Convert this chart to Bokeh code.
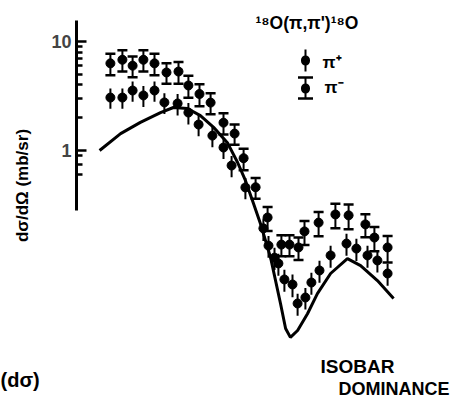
import math
from bokeh.plotting import figure
from bokeh.models import Range1d, FixedTicker, Label, Whisker, TeeHead, BoxAnnotation
from bokeh.embed import file_html
from bokeh.resources import INLINE

# ---- data (angle axis not shown in the figure; cross sections in mb/sr) ----
theta_pim = [11.3, 15.3, 18.7, 22.3, 26.0, 30.0, 34.0, 37.3, 41.0, 44.7, 49.0, 52.7,
             55.7, 59.7, 63.7, 68.3, 71.0, 74.0, 76.0, 80.7, 86.3, 90.7, 96.3, 99.3, 103.7]
xs_pim = [6.3, 6.8, 6.0, 6.8, 6.3, 5.2, 5.3, 3.95, 3.3, 2.75, 1.8, 1.43,
          0.85, 0.46, 0.243, 0.137, 0.137, 0.129, 0.181, 0.218, 0.259, 0.254, 0.21, 0.159, 0.129]
err_pim = [1.4, 1.5, 1.3, 1.5, 1.4, 1.1, 1.2, 0.9, 0.75, 0.6, 0.4, 0.3,
           0.19, 0.1, 0.06, 0.03, 0.03, 0.03, 0.045, 0.055, 0.065, 0.065, 0.05, 0.04, 0.035]

theta_pip = [11.3, 15.3, 18.7, 22.3, 26.0, 29.3, 33.7, 37.3, 40.7, 45.3, 49.0, 51.7, 56.3,
             62.3, 64.0, 66.0, 67.3, 69.3, 72.0, 73.7, 76.3, 78.3, 81.0, 84.7, 90.0, 93.3,
             97.0, 100.3, 103.7]
xs_pip = [3.06, 3.06, 3.55, 3.2, 3.55, 2.76, 2.7, 2.23, 1.73, 1.37, 1.065, 0.728, 0.458,
          0.193, 0.134, 0.104, 0.092, 0.0656, 0.059, 0.0395, 0.0448, 0.0615, 0.0793, 0.109, 0.14, 0.126,
          0.109, 0.098, 0.0744]
err_pip = [0.65, 0.65, 0.75, 0.7, 0.75, 0.6, 0.6, 0.5, 0.38, 0.3, 0.23, 0.16, 0.1,
           0.045, 0.03, 0.024, 0.021, 0.015, 0.014, 0.009, 0.01, 0.014, 0.018, 0.025, 0.032, 0.029,
           0.025, 0.022, 0.017]

theta_theory = [7.7, 14.7, 21.3, 28.0, 32.3, 37.0, 41.3, 45.7, 50.3, 53.7, 56.3, 59.0, 61.3,
                64.7, 68.0, 69.7, 71.3, 73.7, 77.0, 80.3, 84.7, 90.3, 94.7, 100.3, 105.7]
xs_theory = [1.0, 1.43, 1.81, 2.23, 2.48, 2.43, 2.09, 1.63, 1.18, 0.776, 0.531, 0.326, 0.214,
             0.104, 0.0395, 0.0233, 0.0193, 0.0223, 0.0318, 0.0487, 0.0744, 0.102, 0.088, 0.0641, 0.0439]

y_major_ticks = [1, 10]
y_minor_ticks = [0.6, 0.75, 0.9, 2, 3, 4, 5, 6, 7, 8, 9]
y_tick_labels = {1: "1", 10: "10"}

title_text = "\u00b9\u2078O(\u03c0,\u03c0')\u00b9\u2078O"
legend_labels = ["\u03c0\u207a", "\u03c0\u207b"]
y_label = "d\u03c3/d\u03a9 (mb/sr)"

FONT = "Liberation Sans"
W, H = 457, 397
AXIS_PX = 76          # pixel column of the y axis line
DEC = 109.0           # pixels per decade
ONE_PX = 150          # pixel row of the value 1

p = figure(width=W, height=H, output_backend="svg", toolbar_location=None,
           y_axis_type="log", x_axis_location=None,
           x_range=Range1d(-AXIS_PX / 3.0, (W - AXIS_PX) / 3.0),
           y_range=Range1d(10 ** ((ONE_PX - H) / DEC), 10 ** (ONE_PX / DEC)),
           min_border_left=0, min_border_right=0, min_border_top=0, min_border_bottom=0)
p.outline_line_color = None
p.grid.visible = False
p.background_fill_color = "white"
p.border_fill_color = "white"

ax = p.yaxis[0]
ax.fixed_location = 0
ax.ticker = FixedTicker(ticks=y_major_ticks, minor_ticks=y_minor_ticks)
ax.major_label_overrides = y_tick_labels
ax.bounds = (10 ** ((ONE_PX - 210) / DEC), 10 ** ((ONE_PX - 20) / DEC))
ax.axis_line_width = 3
ax.major_tick_in = 10
ax.major_tick_out = 0
ax.minor_tick_in = 6
ax.minor_tick_out = 0
ax.major_tick_line_width = 2.5
ax.minor_tick_line_width = 2.5
ax.major_label_standoff = 5
ax.major_label_text_font = FONT
ax.major_label_text_font_style = "bold"
ax.major_label_text_font_size = "18px"

# theory curve
p.line(theta_theory, xs_theory, line_color="black", line_width=3)

# pi+ (error bars without caps)
lo_pip = [y - e for y, e in zip(xs_pip, err_pip)]
hi_pip = [y + e for y, e in zip(xs_pip, err_pip)]
p.segment(theta_pip, lo_pip, theta_pip, hi_pip, line_color="black", line_width=2)
p.scatter(theta_pip, xs_pip, marker="circle", size=9, fill_color="black", line_color="black")

# pi- (error bars with caps)
lo_pim = [y - e for y, e in zip(xs_pim, err_pim)]
hi_pim = [y + e for y, e in zip(xs_pim, err_pim)]
p.segment(theta_pim, lo_pim, theta_pim, hi_pim, line_color="black", line_width=2)
p.scatter(theta_pim, hi_pim, marker="dash", size=10, line_color="black", line_width=2.5)
p.scatter(theta_pim, lo_pim, marker="dash", size=10, line_color="black", line_width=2.5)
p.scatter(theta_pim, xs_pim, marker="circle", size=9, fill_color="black", line_color="black")


def sx(px):
    return px


def sy(py):
    return H - py


def text(t, px, py, size, align="left", angle=0.0):
    p.add_layout(Label(x=sx(px), y=sy(py), x_units="screen", y_units="screen", text=t,
                       text_font=FONT, text_font_style="bold", text_font_size=size,
                       text_color="black", text_align=align, text_baseline="middle",
                       angle=angle))


# y axis title (rotated)
text(y_label, 22, 185, "17px", align="center", angle=math.pi / 2)

# reaction label
text(title_text, 255, 22, "17.5px")

# legend keys
leg_x = 305
p.add_layout(Whisker(base=sx(leg_x), upper=sy(49), lower=sy(71), dimension="height",
                     base_units="screen", upper_units="screen", lower_units="screen",
                     line_color="black", line_width=2, upper_head=None, lower_head=None))
p.add_layout(BoxAnnotation(left=sx(leg_x) - 4.5, right=sx(leg_x) + 4.5, top=sy(55), bottom=sy(65),
                           left_units="screen", right_units="screen", top_units="screen",
                           bottom_units="screen", fill_color="black", fill_alpha=1.0,
                           line_color=None, border_radius=5))
p.add_layout(Whisker(base=sx(leg_x), upper=sy(77), lower=sy(98), dimension="height",
                     base_units="screen", upper_units="screen", lower_units="screen",
                     line_color="black", line_width=2,
                     upper_head=TeeHead(size=15, line_width=2.5, line_color="black"),
                     lower_head=TeeHead(size=15, line_width=2.5, line_color="black")))
p.add_layout(BoxAnnotation(left=sx(leg_x) - 4.5, right=sx(leg_x) + 4.5, top=sy(83), bottom=sy(93),
                           left_units="screen", right_units="screen", top_units="screen",
                           bottom_units="screen", fill_color="black", fill_alpha=1.0,
                           line_color=None, border_radius=5))
text(legend_labels[0], 322, 62, "17px")
text(legend_labels[1], 324, 87, "17px")

# annotations at the bottom
text("ISOBAR", 320, 366, "19px")
text("DOMINANCE", 338, 388, "18px")
text("(d\u03c3)", 0, 379, "20px")

open("out.html", "w").write(file_html(p, INLINE))
